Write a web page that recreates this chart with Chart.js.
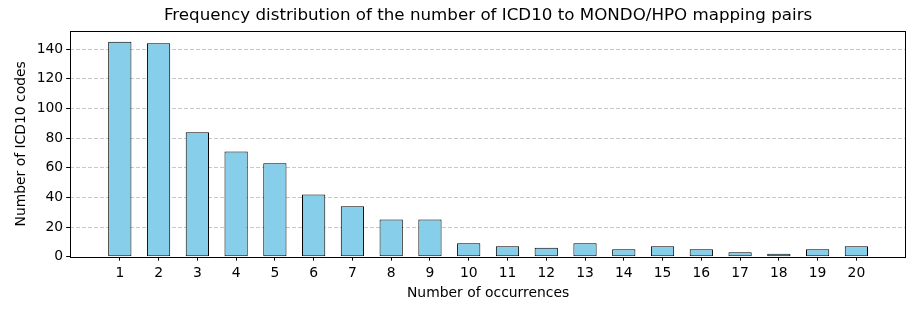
<!DOCTYPE html>
<html>
<head>
<meta charset="utf-8">
<script src="https://cdn.jsdelivr.net/npm/chart.js@4.4.1/dist/chart.umd.min.js"></script>
<style>
	html, body { margin: 0; padding: 0; background: #fff; }
</style>
</head>
<body>
<canvas id="myChart" width="920" height="310"></canvas>
<script>
const occurrences = [1, 2, 3, 4, 5, 6, 7, 8, 9, 10, 11, 12, 13, 14, 15, 16, 17, 18, 19, 20]
const codeCounts = [145, 144, 84, 71, 63, 42, 34, 25, 25, 9, 7, 6, 9, 5, 7, 5, 3, 2, 5, 7]
const yTicks = [0, 20, 40, 60, 80, 100, 120, 140]

Chart.defaults.font.family = 'DejaVu Sans'
Chart.defaults.color = '#000'

// box round the plot area, like the matplotlib spines
const frame = {
	id: 'frame',
	afterDraw(chart) {
		const { ctx } = chart
		const xs = chart.scales.x, ys = chart.scales.y
		const l = Math.round(xs.left) + 0.5, r = Math.round(xs.right) - 0.5
		const t = Math.round(ys.getPixelForValue(ys.max)) + 0.5
		const b = Math.round(ys.getPixelForValue(0)) + 0.5
		ctx.save()
		ctx.setLineDash([])
		ctx.strokeStyle = '#000'
		ctx.lineWidth = 1
		ctx.strokeRect(l, t, r - l, b - t)
		ctx.restore()
	}
}

let cfg = {
	type: 'bar',
	data: {
		datasets: [{
			data: occurrences.map((x, i) => ({ x: x, y: codeCounts[i] })),
			backgroundColor: '#87CEEB',
			borderColor: '#000',
			borderWidth: 1,
			borderSkipped: false,
			barPercentage: 0.6,
			categoryPercentage: 1
		}]
	},
	options: {
		responsive: false,
		animation: false,
		events: [],
		layout: { padding: { left: 13, right: 14, top: 0, bottom: 8 } },
		plugins: {
			legend: { display: false },
			tooltip: { enabled: false },
			title: {
				display: true,
				fullSize: false,
				text: 'Frequency distribution of the number of ICD10 to MONDO/HPO mapping pairs',
				font: { size: 16.7, weight: 'normal' },
				padding: { top: 6, bottom: 5 }
			}
		},
		scales: {
			x: {
				type: 'linear',
				offset: false,
				min: -0.28,
				max: 21.28,
				afterBuildTicks: (scale) => {
					scale.ticks = occurrences.map(v => ({ value: v }))
				},
				ticks: { font: { size: 13.9 }, padding: 4, maxRotation: 0, autoSkip: false },
				grid: { offset: false, drawOnChartArea: false, tickLength: 4, tickColor: '#000' },
				border: { display: false },
				title: { display: true, text: 'Number of occurrences', font: { size: 13.9 }, padding: { top: 0, bottom: 0 } }
			},
			y: {
				min: 0,
				max: 152.25,
				afterBuildTicks: (scale) => {
					scale.ticks = yTicks.map(v => ({ value: v }))
				},
				ticks: { font: { size: 13.9 }, padding: 3 },
				grid: {
					color: (c) => c.tick && c.tick.value === 0 ? 'rgba(0,0,0,0)' : 'rgba(176,176,176,0.7)',
					tickLength: 4,
					tickColor: '#000'
				},
				border: { display: false, dash: [4, 2] },
				title: { display: true, text: 'Number of ICD10 codes', font: { size: 13.9 }, padding: { top: 0, bottom: 4 } }
			}
		}
	},
	plugins: [frame]
}
new Chart('myChart', cfg)
</script>
</body>
</html>
